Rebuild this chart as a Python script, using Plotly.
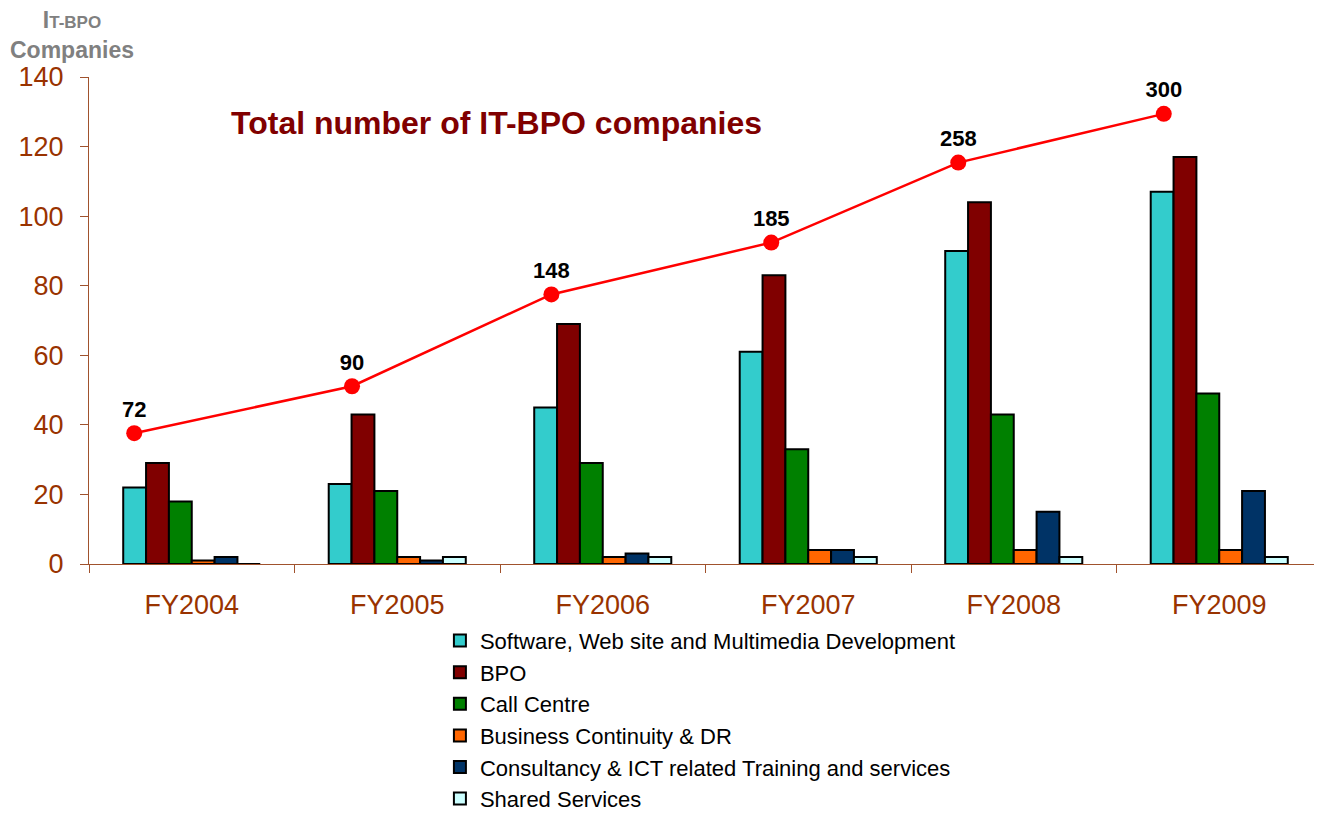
import plotly.graph_objects as go

years = ["FY2004", "FY2005", "FY2006", "FY2007", "FY2008", "FY2009"]
software = [22, 23, 45, 61, 90, 107]
bpo = [29, 43, 69, 83, 104, 117]
call_centre = [18, 21, 29, 33, 43, 49]
business_continuity = [1, 2, 2, 4, 4, 4]
consultancy = [2, 1, 3, 4, 15, 21]
shared_services = [0, 2, 2, 2, 2, 2]

totals = [72, 90, 148, 185, 258, 300]
# where the total markers sit (category index, left-axis level)
total_marker_x = [-0.28, 0.78, 1.75, 2.82, 3.73, 4.73]
total_marker_level = [37.6, 51.1, 77.5, 92.4, 115.4, 129.4]

series = [
    ("Software, Web site and Multimedia Development", software, "#33CCCC"),
    ("BPO", bpo, "#800000"),
    ("Call Centre", call_centre, "#008000"),
    ("Business Continuity & DR", business_continuity, "#FF6600"),
    ("Consultancy & ICT related Training and services", consultancy, "#003366"),
    ("Shared Services", shared_services, "#CCFFFF"),
]

FONT = "Arial, Liberation Sans, sans-serif"
AXIS_COL = "#A0522D"
TICK_COL = "#993300"

fig = go.Figure()
for name, vals, col in series:
    fig.add_trace(go.Bar(
        x=years, y=vals, name=name,
        marker=dict(color=col, line=dict(color="black", width=2)),
    ))

fig.add_trace(go.Scatter(
    x=total_marker_x, y=total_marker_level, xaxis="x2",
    mode="lines+markers+text",
    text=[str(t) for t in totals], textposition="top center",
    textfont=dict(family=FONT, size=22, color="black", weight="bold"),
    line=dict(color="#FF0000", width=2.5),
    marker=dict(color="#FF0000", size=16),
    showlegend=False, cliponaxis=False,
))

# the page body adds an 8px offset, so the figure is 8px smaller than the window
fig.update_layout(
    width=1314, height=805,
    margin=dict(l=81, r=0, t=69, b=249, autoexpand=False),
    paper_bgcolor="white", plot_bgcolor="white",
    barmode="group", bargap=0.333, bargroupgap=0,
    font=dict(family=FONT, color="black"),
    xaxis=dict(
        type="category", categoryorder="array", categoryarray=years,
        range=[-0.5, 5.5],
        showline=True, linecolor=AXIS_COL, linewidth=1,
        ticks="outside", tickson="boundaries", ticklen=8, tickcolor=AXIS_COL,
        tickfont=dict(family=FONT, size=27, color=TICK_COL),
        showgrid=False, zeroline=False, ticklabelstandoff=17,
    ),
    xaxis2=dict(
        overlaying="x", range=[-0.5, 5.5], visible=False,
    ),
    yaxis=dict(
        range=[0, 140], tickvals=[0, 20, 40, 60, 80, 100, 120, 140],
        showline=True, linecolor=AXIS_COL, linewidth=1,
        ticks="outside", ticklen=8, tickcolor=AXIS_COL,
        tickfont=dict(family=FONT, size=27, color=TICK_COL),
        showgrid=False, zeroline=False, ticklabelstandoff=11,
    ),
    legend=dict(
        x=0.2846, y=-0.1146, xanchor="left", yanchor="top",
        font=dict(family=FONT, size=22, color="black"),
        bgcolor="rgba(0,0,0,0)", traceorder="normal",
        itemwidth=30, tracegroupgap=0,
    ),
    annotations=[
        dict(
            text="Total number of IT-BPO companies",
            xref="paper", yref="paper", x=0.1135, y=0.9055,
            xanchor="left", yanchor="middle", showarrow=False,
            font=dict(family=FONT, size=32, color="#800000", weight="bold"),
        ),
        dict(
            text="I<span style='font-size:17px'>T-BPO</span><br>Companies",
            xref="paper", yref="paper", x=-0.0138, y=1.086,
            xanchor="center", yanchor="middle", showarrow=False, align="center",
            font=dict(family=FONT, size=23, color="#808080", weight="bold"),
        ),
    ],
)

fig.write_html("out.html")
